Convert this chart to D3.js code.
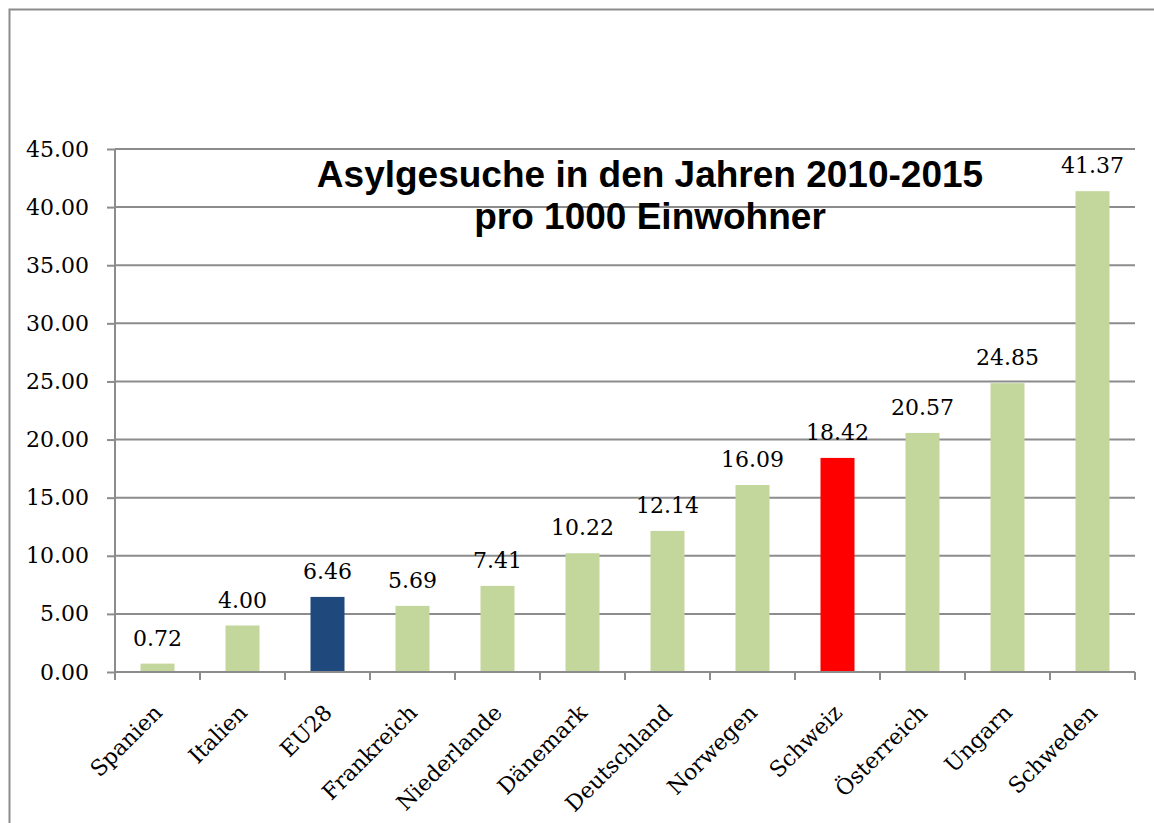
<!DOCTYPE html>
<html>
<head>
<meta charset="utf-8">
<script src="https://cdn.jsdelivr.net/npm/d3@7"></script>
<style>
  body { margin: 0; background: #fff; }
  .axis text { font-family: "DejaVu Serif", serif; }
</style>
</head>
<body>
<div id="chart"></div>
<script>
var countries = ["Spanien", "Italien", "EU28", "Frankreich", "Niederlande", "Dänemark", "Deutschland", "Norwegen", "Schweiz", "Österreich", "Ungarn", "Schweden"];
var values = [0.72, 4.00, 6.46, 5.69, 7.41, 10.22, 12.14, 16.09, 18.42, 20.57, 24.85, 41.37];
var yTicks = [0, 5, 10, 15, 20, 25, 30, 35, 40, 45];
var highlight = { "EU28": "#1F497D", "Schweiz": "#FF0000" };
var titleLines = ["Asylgesuche in den Jahren 2010-2015", "pro 1000 Einwohner"];

var W = 1154, H = 823,
    margin = { top: 149, right: 19, bottom: 151, left: 115 },
    width = W - margin.left - margin.right,
    height = H - margin.top - margin.bottom;

var data = countries.map(function(c, i) { return { name: c, v: values[i] }; });

var svg = d3.select("#chart").append("svg")
    .attr("width", W)
    .attr("height", H);

// outer frame
svg.append("rect")
    .attr("x", 9.5).attr("y", 9.5)
    .attr("width", W + 20).attr("height", H + 20)
    .attr("fill", "none")
    .attr("stroke", "#8c8c8c")
    .attr("stroke-width", 2);

var g = svg.append("g")
    .attr("transform", "translate(" + margin.left + "," + margin.top + ")");

var x = d3.scaleBand().domain(countries).range([0, width]).paddingInner(0.6).paddingOuter(0.3);
var y = d3.scaleLinear().domain([0, 45]).range([height, 0]);

// gridlines
g.selectAll(".grid")
    .data(yTicks.slice(1))
    .enter().append("line")
    .attr("x1", 0).attr("x2", width)
    .attr("y1", function(d) { return y(d); })
    .attr("y2", function(d) { return y(d); })
    .attr("stroke", "#8c8c8c")
    .attr("stroke-width", 2);

// y axis
var yAxis = g.append("g")
    .attr("class", "axis")
    .call(d3.axisLeft(y).tickValues(yTicks).tickFormat(d3.format(".2f")).tickSize(8).tickPadding(18));
yAxis.selectAll("line, path").attr("stroke", "#8c8c8c").attr("stroke-width", 2);
yAxis.select("path").attr("d", "M0," + height + "V0");
yAxis.selectAll("text").attr("font-size", 22).attr("fill", "#000");

// bars
g.selectAll(".bar")
    .data(data)
    .enter().append("rect")
    .attr("x", function(d) { return x(d.name); })
    .attr("y", function(d) { return y(d.v); })
    .attr("width", x.bandwidth())
    .attr("height", function(d) { return height - y(d.v); })
    .attr("fill", function(d) { return highlight[d.name] || "#C3D69B"; });

// x axis with ticks at band boundaries
var step = x.step();
var xAxis = g.append("g")
    .attr("class", "axis")
    .attr("transform", "translate(0," + height + ")");
xAxis.append("line")
    .attr("x1", 0).attr("x2", width)
    .attr("stroke", "#8c8c8c").attr("stroke-width", 2);
xAxis.selectAll(".xt")
    .data(d3.range(countries.length + 1))
    .enter().append("line")
    .attr("x1", function(i) { return i * step; })
    .attr("x2", function(i) { return i * step; })
    .attr("y1", 0).attr("y2", 8)
    .attr("stroke", "#8c8c8c").attr("stroke-width", 2);
xAxis.selectAll("text")
    .data(countries)
    .enter().append("text")
    .attr("transform", function(d) {
        return "translate(" + (x(d) + x.bandwidth() / 2 + 6) + ",42) rotate(-45)";
    })
    .attr("text-anchor", "end")
    .attr("font-size", 22)
    .attr("fill", "#000")
    .text(function(d) { return d; });

// value labels
g.selectAll(".val")
    .data(data)
    .enter().append("text")
    .attr("x", function(d) { return x(d.name) + x.bandwidth() / 2; })
    .attr("y", function(d) { return y(d.v) - 18; })
    .attr("text-anchor", "middle")
    .attr("font-family", "DejaVu Serif, serif")
    .attr("font-size", 22)
    .attr("fill", "#000")
    .text(function(d) { return d.v.toFixed(2); });

// title
svg.selectAll(".title")
    .data(titleLines)
    .enter().append("text")
    .attr("x", 650)
    .attr("y", function(d, i) { return 187 + i * 42; })
    .attr("text-anchor", "middle")
    .attr("font-family", "Liberation Sans, Arial, sans-serif")
    .attr("font-weight", "bold")
    .attr("font-size", 37)
    .attr("fill", "#000")
    .text(function(d) { return d; });
</script>
</body>
</html>
